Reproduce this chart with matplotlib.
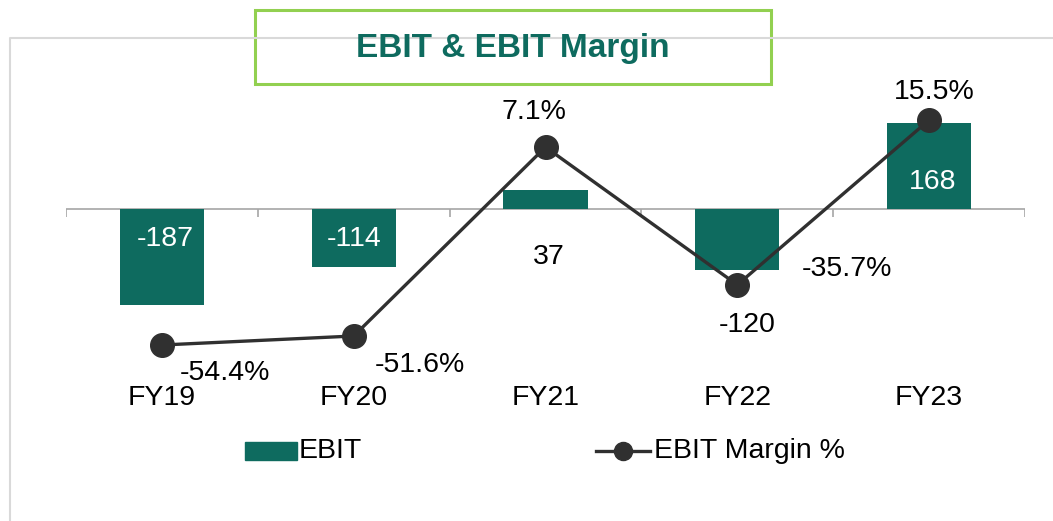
import matplotlib
matplotlib.use("Agg")
import matplotlib.pyplot as plt
from matplotlib.patches import Rectangle
from matplotlib.lines import Line2D
import matplotlib.transforms as mtransforms
import numpy as np

plt.rcParams['font.family'] = ['Liberation Sans', 'DejaVu Sans']

# data
years = ['FY19', 'FY20', 'FY21', 'FY22', 'FY23']
ebit = [-187, -114, 37, -120, 168]
margin = [-54.4, -51.6, 7.1, -35.7, 15.5]
ebit_labels = ['-187', '-114', '37', '-120', '168']
margin_labels = ['-54.4%', '-51.6%', '7.1%', '-35.7%', '15.5%']

GREEN = '#0E6B5F'
LINE = '#303030'
W, H = 1053, 521
FS = 20.5

fig = plt.figure(figsize=(W / 100, H / 100), dpi=100)


def fx(px):
    return px / W


def fy(py):
    return (H - py) / H


# outer light border (top + left)
fig.add_artist(Line2D([fx(10), fx(10), fx(W)], [fy(H), fy(38), fy(38)],
                      color='#D9D9D9', lw=1.5))

ax = fig.add_axes([fx(66), fy(420), fx(1025) - fx(66), fy(38) - fy(420)])
ax2 = ax.twinx()
for a in (ax, ax2):
    for s in a.spines.values():
        s.set_visible(False)
    a.set_yticks([])
    a.set_xticks([])
    a.patch.set_visible(False)

x = np.arange(len(years))
ax.set_xlim(-0.5, len(years) - 0.5)
ax.set_ylim(-412, 334)
ax2.set_ylim(-77.7, 41.0)

ax.bar(x, ebit, width=0.44, color=GREEN, zorder=2)
ax.axhline(0, color='#A6A6A6', lw=1.2, zorder=1)
bounds = np.arange(len(years) + 1) - 0.5
ax.vlines(bounds, -16, 0, color='#A6A6A6', lw=1.2, zorder=1)

ax2.plot(x, margin, color=LINE, lw=2.4, marker='o', markersize=17, zorder=3)

# bar labels (pixel offsets from the zero line / bar centre)
bar_pos = [(3, -30, 'white'), (0, -30, 'white'), (3, -48, 'black'),
           (10, -116, 'black'), (4, 27, 'white')]
for i, (dx, dy, c) in enumerate(bar_pos):
    ax.annotate(ebit_labels[i], (x[i], 0), xytext=(dx, dy), textcoords='offset pixels',
                ha='center', va='center', fontsize=FS, color=c, zorder=4)

line_off = [(63, -28), (66, -29), (-12, 35), (110, 16), (5, 28)]
for i, (dx, dy) in enumerate(line_off):
    ax2.annotate(margin_labels[i], (x[i], margin[i]), xytext=(dx, dy),
                 textcoords='offset pixels', ha='center', va='center',
                 fontsize=FS, color='black', zorder=4)

trans = mtransforms.blended_transform_factory(ax.transData, ax.transAxes)
for i, yr in enumerate(years):
    ax.text(x[i], 0.057, yr, transform=trans, ha='center', va='center', fontsize=FS)

# legend
fig.add_artist(Rectangle((fx(245), fy(460)), fx(297) - fx(245), fy(442) - fy(460),
                         color=GREEN))
fig.text(fx(299), fy(451), 'EBIT', ha='left', va='center', fontsize=FS)
fig.add_artist(Line2D([fx(596), fx(650)], [fy(451), fy(451)], color=LINE, lw=2.4))
fig.add_artist(Line2D([fx(623)], [fy(451)], color=LINE, marker='o', markersize=13))
fig.text(fx(654), fy(451), 'EBIT Margin %', ha='left', va='center', fontsize=FS)

# title box
fig.add_artist(Rectangle((fx(255), fy(84)), fx(771) - fx(255), fy(10) - fy(84),
                         facecolor='white', edgecolor='#92D050', lw=2.2))
fig.text(fx(513), fy(48), 'EBIT & EBIT Margin', ha='center', va='center',
         fontsize=24, fontweight='bold', color=GREEN)

fig.savefig('out.png', dpi=100)
